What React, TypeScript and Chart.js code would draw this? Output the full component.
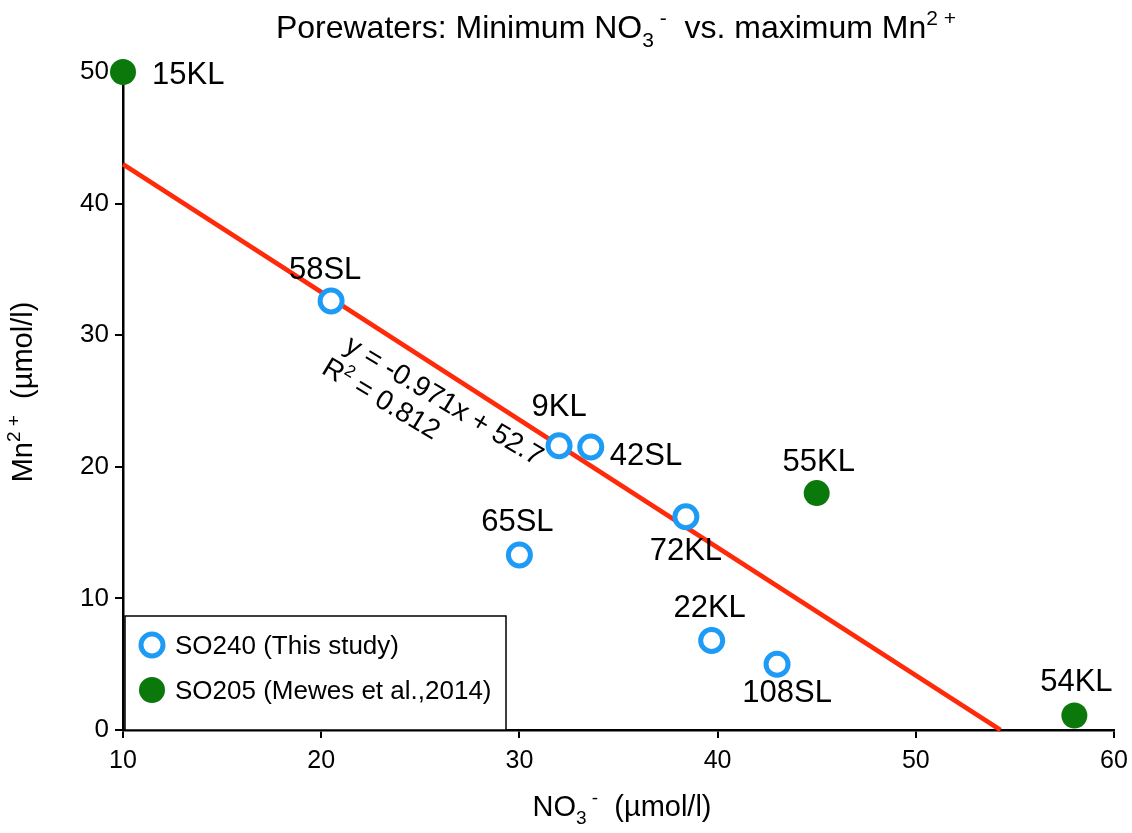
import React, { useEffect, useRef } from "react";
import { Chart, registerables } from "chart.js";
Chart.register(...registerables);

// ---- data ----
const so240X = [20.5, 32.0, 33.6, 38.4, 30.0, 39.7, 43.0];
const so240Y = [32.6, 21.6, 21.5, 16.2, 13.3, 6.8, 5.0];
const so240Labels = ["58SL", "9KL", "42SL", "72KL", "65SL", "22KL", "108SL"];
const so205X = [10, 45, 58];
const so205Y = [50, 18, 1.1];
const so205Labels = ["15KL", "55KL", "54KL"];
const trendSlope = -0.971;
const trendIntercept = 52.7;
const trendR2 = 0.812;
const xTicks = [10, 20, 30, 40, 50, 60];
const yTicks = [0, 10, 20, 30, 40, 50];
const seriesNames = ["SO240 (This study)", "SO205 (Mewes et al.,2014)"];

// ---- styles ----
const FONT = "'Liberation Sans', Arial, sans-serif";
const BLUE = "#1E9BF5";
const GREEN = "#0A780A";
const RED = "#FF2A0A";
// label offsets (px) relative to the point: [dx, dy, align]
const labelOffsets: Record<string, [number, number, CanvasTextAlign]> = {
  "58SL": [-6, -31, "center"],
  "9KL": [0, -38, "center"],
  "42SL": [19, 9, "left"],
  "72KL": [0, 35, "center"],
  "65SL": [-2, -33, "center"],
  "22KL": [-2, -32, "center"],
  "108SL": [10, 29, "center"],
  "15KL": [29, 3, "left"],
  "55KL": [2, -31, "center"],
  "54KL": [2, -33, "center"],
};

type Part = [string, "n" | "sub" | "sup"];
function drawRich(ctx: CanvasRenderingContext2D, parts: Part[], x: number, y: number, size: number) {
  const small = Math.round(size * 0.66);
  let total = 0;
  for (const [t, k] of parts) {
    ctx.font = `${k === "n" ? size : small}px ${FONT}`;
    total += ctx.measureText(t).width;
  }
  let cx = x - total / 2;
  ctx.textAlign = "left";
  ctx.textBaseline = "alphabetic";
  for (const [t, k] of parts) {
    ctx.font = `${k === "n" ? size : small}px ${FONT}`;
    const dy = k === "sub" ? size * 0.28 : k === "sup" ? -size * 0.4 : 0;
    ctx.fillText(t, cx, y + dy);
    cx += ctx.measureText(t).width;
  }
}

const annotPlugin = {
  id: "annot",
  afterDatasetsDraw(chart: any) {
    const ctx: CanvasRenderingContext2D = chart.ctx;
    const xs = chart.scales.x;
    const ys = chart.scales.y;
    ctx.save();
    ctx.fillStyle = "#000";
    // point labels
    ctx.font = `31px ${FONT}`;
    ctx.textBaseline = "middle";
    const drawLabels = (X: number[], Y: number[], L: string[]) => {
      L.forEach((lab, i) => {
        const [dx, dy, al] = labelOffsets[lab] || [0, -30, "center"];
        ctx.textAlign = al;
        ctx.fillText(lab, xs.getPixelForValue(X[i]) + dx, ys.getPixelForValue(Y[i]) + dy);
      });
    };
    drawLabels(so240X, so240Y, so240Labels);
    drawLabels(so205X, so205Y, so205Labels);

    // equation
    ctx.save();
    ctx.translate(343, 350);
    ctx.rotate((31 * Math.PI) / 180);
    ctx.font = `28px ${FONT}`;
    ctx.textAlign = "left";
    ctx.textBaseline = "alphabetic";
    ctx.fillText(`y = ${trendSlope}x + ${trendIntercept}`, 0, 0);
    const lx = -8, ly = 31;
    ctx.fillText("R", lx, ly);
    const rw = ctx.measureText("R").width;
    ctx.font = `17px ${FONT}`;
    ctx.fillText("2", lx + rw, ly - 11);
    const r2w = ctx.measureText("2").width;
    ctx.font = `28px ${FONT}`;
    ctx.fillText(` = ${trendR2}`, lx + rw + r2w, ly);
    ctx.restore();

    // legend
    ctx.fillStyle = "#fff";
    ctx.fillRect(125, 616, 381, 114);
    ctx.strokeStyle = "#000";
    ctx.lineWidth = 1.5;
    ctx.strokeRect(125, 616, 381, 114);
    ctx.beginPath();
    ctx.arc(152, 645, 11, 0, Math.PI * 2);
    ctx.fillStyle = "#fff";
    ctx.fill();
    ctx.lineWidth = 5;
    ctx.strokeStyle = BLUE;
    ctx.stroke();
    ctx.beginPath();
    ctx.arc(152, 690, 13, 0, Math.PI * 2);
    ctx.fillStyle = GREEN;
    ctx.fill();
    ctx.fillStyle = "#000";
    ctx.font = `26px ${FONT}`;
    ctx.textAlign = "left";
    ctx.textBaseline = "middle";
    ctx.fillText(seriesNames[0], 175, 647);
    ctx.fillText(seriesNames[1], 175, 692);

    // title
    drawRich(ctx, [["Porewaters: Minimum NO", "n"], ["3", "sub"], [" -", "sup"], ["  vs. maximum Mn", "n"], ["2 +", "sup"]], 616, 38, 32);
    // x title
    drawRich(ctx, [["NO", "n"], ["3", "sub"], [" -", "sup"], ["  (µmol/l)", "n"]], 622, 816, 29);
    // y title
    ctx.save();
    ctx.translate(32, 392);
    ctx.rotate(-Math.PI / 2);
    drawRich(ctx, [["Mn", "n"], ["2 +", "sup"], ["  (µmol/l)", "n"]], 0, 0, 29);
    ctx.restore();
    ctx.restore();
  },
};

export default function App() {
  const ref = useRef<HTMLCanvasElement>(null);
  useEffect(() => {
    document.body.style.margin = "0";
    const xEnd = -trendIntercept / trendSlope;
    const trendXs = [xTicks[0], xEnd];
    const chart = new Chart(ref.current!, {
      type: "scatter",
      data: {
        datasets: [
          {
            label: seriesNames[0],
            data: so240X.map((x, i) => ({ x, y: so240Y[i] })),
            pointRadius: 11,
            pointBorderWidth: 5,
            borderColor: BLUE,
            backgroundColor: "#fff",
            pointBackgroundColor: "#fff",
            order: 1,
            clip: false,
          } as any,
          {
            label: seriesNames[1],
            data: so205X.map((x, i) => ({ x, y: so205Y[i] })),
            pointRadius: 13,
            pointBorderWidth: 0,
            borderColor: GREEN,
            backgroundColor: GREEN,
            order: 2,
            clip: false,
          } as any,
          {
            label: "trend",
            type: "line",
            data: trendXs.map((x) => ({ x, y: trendSlope * x + trendIntercept })),
            borderColor: RED,
            borderWidth: 4.5,
            pointRadius: 0,
            showLine: true,
            order: 3,
            clip: false,
          } as any,
        ],
      },
      options: {
        responsive: false,
        animation: false,
        devicePixelRatio: 1,
        layout: { padding: { top: 72, right: 18, left: 0, bottom: 0 } },
        plugins: { legend: { display: false }, tooltip: { enabled: false }, title: { display: false } },
        scales: {
          x: {
            type: "linear",
            min: 10,
            max: 60,
            afterBuildTicks: (s: any) => { s.ticks = xTicks.map((v) => ({ value: v })); },
            afterFit: (s: any) => { s.height = 103; s.paddingLeft = 0; s.paddingRight = 0; },
            grid: { display: true, drawOnChartArea: false, drawTicks: true, tickLength: 8, color: "#000", lineWidth: 2 },
            border: { display: true, color: "#000", width: 2.5 },
            ticks: { color: "#000", font: { family: FONT, size: 25 }, padding: 8, maxRotation: 0 },
          },
          y: {
            type: "linear",
            min: 0,
            max: 50,
            afterBuildTicks: (s: any) => { s.ticks = yTicks.map((v) => ({ value: v })); },
            afterFit: (s: any) => { s.width = 123; s.paddingTop = 0; s.paddingBottom = 0; },
            grid: { display: true, drawOnChartArea: false, drawTicks: true, tickLength: 8, color: "#000", lineWidth: 2 },
            border: { display: true, color: "#000", width: 2.5 },
            ticks: { color: "#000", font: { family: FONT, size: 26 }, padding: 6 },
          },
        },
      },
      plugins: [annotPlugin],
    } as any);
    return () => chart.destroy();
  }, []);
  return (
    <div style={{ width: 1132, height: 833 }}>
      <canvas ref={ref} width={1132} height={833} />
    </div>
  );
}
